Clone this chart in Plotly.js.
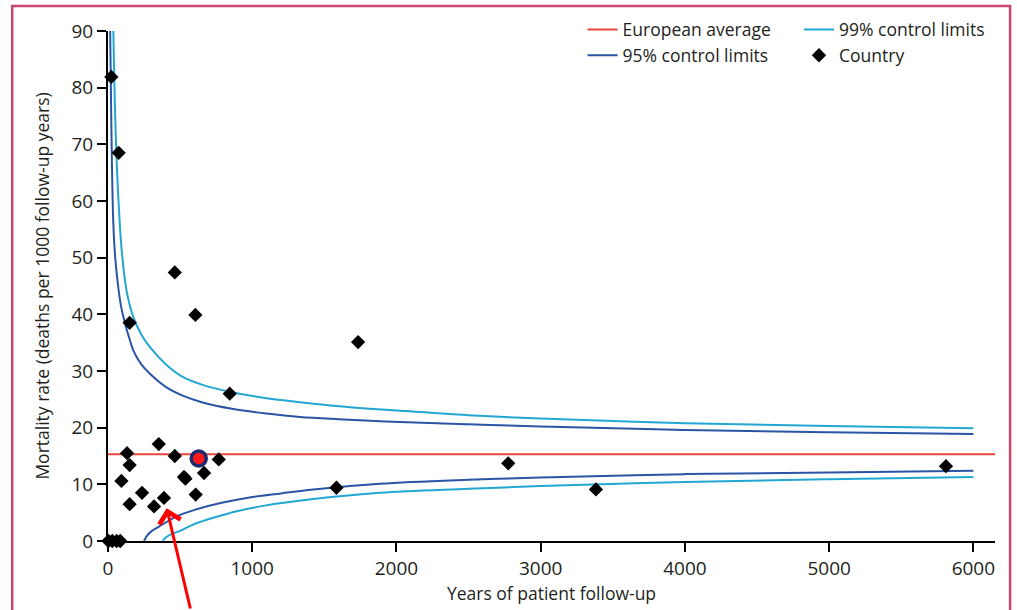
<!DOCTYPE html>
<html>
<head>
<meta charset="utf-8">
<script src="https://cdn.plot.ly/plotly-3.0.1.min.js"></script>
<style>
html,body{margin:0;padding:0;background:#fff;}
#chart{width:1017px;height:610px;}
</style>
</head>
<body>
<div id="chart"></div>
<script>
// ---- Data ----
var europeanAverage = 15.3;
var averageX = [0, 6150];

var countryX = [3, 30, 60, 85, 23, 74, 150, 463, 606, 1734, 844,
                132, 150, 93, 150, 236, 352, 319, 388, 463, 527, 537, 608, 666, 768,
                1584, 2775, 3383, 5810];
var countryY = [0, 0, 0, 0, 81.9, 68.5, 38.5, 47.4, 39.9, 35.1, 26.0,
                15.5, 13.4, 10.6, 6.5, 8.5, 17.1, 6.1, 7.6, 15.0, 11.3, 11.0, 8.2, 12.0, 14.4,
                9.4, 13.7, 9.1, 13.2];

var highlightX = [629];
var highlightY = [14.55];

var upper95X = [15, 20, 27, 37, 50, 70, 90, 118, 150, 176, 230, 291, 400, 522, 650, 869, 1100, 1331, 1600, 2025, 2500, 3000, 4000, 5000, 6000];
var upper95Y = [90, 80, 67, 56, 50, 45, 41.5, 38.4, 35.6, 33.6, 31.2, 29.5, 27.2, 25.6, 24.5, 23.3, 22.5, 21.9, 21.5, 21.0, 20.6, 20.2, 19.6, 19.2, 18.9];
var lower95X = [250, 270, 300, 384, 480, 615, 780, 962, 1200, 1424, 1886, 2500, 3000, 4000, 5000, 6000];
var lower95Y = [0, 0.9, 1.7, 3.0, 4.4, 5.6, 6.7, 7.6, 8.4, 9.1, 10.1, 10.8, 11.2, 11.8, 12.1, 12.4];

var upper99X = [37, 50, 67, 95, 130, 176, 230, 291, 400, 522, 650, 869, 1100, 1331, 1600, 2025, 2500, 3000, 4000, 5000, 6000];
var upper99Y = [90, 75, 63, 51.3, 44, 39.5, 36.5, 34.2, 31.2, 28.9, 27.6, 26.2, 25.2, 24.5, 23.8, 23.0, 22.2, 21.6, 20.8, 20.3, 19.9];
var lower99X = [379, 400, 440, 499, 600, 730, 900, 1077, 1424, 1886, 2500, 3000, 4000, 5000, 6000];
var lower99Y = [0, 0.6, 1.2, 1.8, 3.0, 4.1, 5.3, 6.2, 7.4, 8.5, 9.2, 9.7, 10.4, 10.9, 11.3];

var xTicks = [0, 1000, 2000, 3000, 4000, 5000, 6000];
var yTicks = [0, 10, 20, 30, 40, 50, 60, 70, 80, 90];

var arrowTarget = {x: 407, y: 5.8};

// ---- Styles ----
var RED = '#e8453c', CYAN = '#22a7d2', BLUE = '#2a55a5', TXT = '#231f20';
var FONT = 'Open Sans, Noto Sans, DejaVu Sans, sans-serif';
var SM = 1.0;

var traces = [
  {x: upper99X, y: upper99Y, type: 'scatter', mode: 'lines', name: '99% control limits',
   line: {color: CYAN, width: 2, shape: 'spline', smoothing: SM}, legend: 'legend2', legendgroup: 'c99', hoverinfo: 'skip'},
  {x: lower99X, y: lower99Y, type: 'scatter', mode: 'lines', name: '99% control limits',
   line: {color: CYAN, width: 2, shape: 'spline', smoothing: SM}, showlegend: false, legendgroup: 'c99', hoverinfo: 'skip'},
  {x: upper95X, y: upper95Y, type: 'scatter', mode: 'lines', name: '95% control limits',
   line: {color: BLUE, width: 2, shape: 'spline', smoothing: SM}, legend: 'legend', legendgroup: 'c95', hoverinfo: 'skip'},
  {x: lower95X, y: lower95Y, type: 'scatter', mode: 'lines', name: '95% control limits',
   line: {color: BLUE, width: 2, shape: 'spline', smoothing: SM}, showlegend: false, legendgroup: 'c95', hoverinfo: 'skip'},
  {x: averageX, y: [europeanAverage, europeanAverage], type: 'scatter', mode: 'lines', name: 'European average',
   line: {color: RED, width: 2}, legend: 'legend', legendrank: 1},
  {x: countryX, y: countryY, type: 'scatter', mode: 'markers', name: 'Country',
   marker: {symbol: 'diamond', size: 11, color: '#000'}, legend: 'legend2', cliponaxis: false},
  {x: highlightX, y: highlightY, type: 'scatter', mode: 'markers', name: 'Highlighted country', showlegend: false,
   marker: {symbol: 'circle', size: 15, color: '#ff1a1a', line: {color: '#1d2a6e', width: 3.5}}, cliponaxis: false}
];

var layout = {
  width: 1017, height: 610,
  margin: {l: 108, r: 22, t: 31, b: 69},
  paper_bgcolor: '#fff', plot_bgcolor: '#fff',
  font: {family: FONT, color: TXT, size: 17},
  showlegend: true,
  xaxis: {
    range: [0, 6150], tickvals: xTicks, ticktext: xTicks.map(String),
    showgrid: false, zeroline: false, showline: true, linecolor: '#000', linewidth: 2,
    ticks: 'outside', ticklen: 9, tickwidth: 2, tickcolor: '#000',
    tickfont: {size: 19, color: TXT, family: FONT},
    title: {text: 'Years of patient follow-up', font: {size: 17.5, color: TXT, family: FONT}, standoff: 2}
  },
  yaxis: {
    range: [0, 90], tickvals: yTicks, ticktext: yTicks.map(String),
    showgrid: false, zeroline: false, showline: true, linecolor: '#000', linewidth: 2,
    ticks: 'outside', ticklen: 9, tickwidth: 2, tickcolor: '#000',
    tickfont: {size: 19, color: TXT, family: FONT},
    title: {text: 'Mortality rate (deaths per 1000 follow-up years)', font: {size: 17.5, color: TXT, family: FONT}, standoff: 17}
  },
  legend: {x: 0.535, y: 1.038, xanchor: 'left', yanchor: 'top', orientation: 'v',
           bgcolor: 'rgba(0,0,0,0)', borderwidth: 0, tracegroupgap: 0, itemwidth: 30,
           font: {size: 17.5, color: TXT, family: FONT}, traceorder: 'normal'},
  legend2: {x: 0.779, y: 1.038, xanchor: 'left', yanchor: 'top', orientation: 'v',
           bgcolor: 'rgba(0,0,0,0)', borderwidth: 0, tracegroupgap: 0, itemwidth: 30,
           font: {size: 17.5, color: TXT, family: FONT}, traceorder: 'normal'},
  shapes: [
    {type: 'rect', xref: 'paper', yref: 'paper', x0: -0.108, x1: 1.017, y0: -0.3, y1: 1.049,
     line: {color: '#c9486c', width: 2.5}, fillcolor: 'rgba(0,0,0,0)', layer: 'below'}
  ],
  annotations: [
    {x: arrowTarget.x, y: arrowTarget.y, xref: 'x', yref: 'y', text: '', showarrow: true,
     ax: 24, ay: 110, axref: 'pixel', ayref: 'pixel',
     arrowcolor: '#ff0000', arrowwidth: 3, arrowhead: 4, arrowsize: 1.4}
  ]
};

Plotly.newPlot('chart', traces, layout, {staticPlot: true, displayModeBar: false});
</script>
</body>
</html>
